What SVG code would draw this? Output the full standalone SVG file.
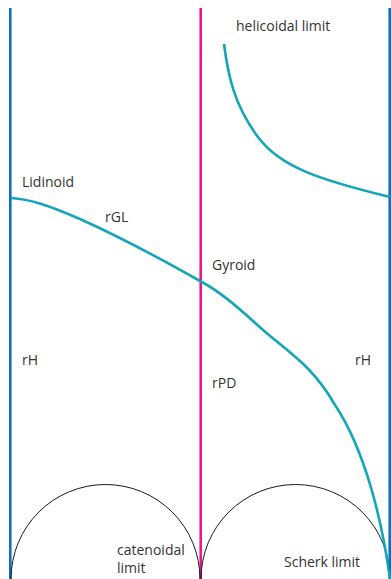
<svg xmlns="http://www.w3.org/2000/svg" width="391" height="579" viewBox="0 0 391 579">
<style>
.t{font-family:"Open Sans","Liberation Sans",sans-serif;font-size:14px;fill:#333}
.bl{stroke:#0a72c4;stroke-width:2.6;fill:none}
.mg{stroke:#e6198c;stroke-width:2.6;fill:none}
.cy{stroke:#12a6b6;stroke-width:2.6;fill:none}
.arc{stroke:#1a1a1a;stroke-width:1;fill:none}
</style>
<rect width="391" height="579" fill="#fff"/>
<g id="connectors">
<line class="bl" x1="10.3" y1="8" x2="10.3" y2="579"/>
<line class="mg" x1="200.7" y1="8" x2="200.7" y2="579"/>
<line class="bl" x1="389.7" y1="8" x2="389.7" y2="579"/>
<path class="arc" d="M11,579 A94.5,94.5 0 0 1 200,579"/>
<path class="arc" d="M201,579 A94.5,94.5 0 0 1 390,579"/>
<path class="cy" d="M224,44 C228,75 234,105 258,137 C280,167 320,180 390,197"/>
<path class="cy" d="M11,198 C30,199 50,206 80,219 C120,237 170,264 200,281 C230,297 250,320 275,340 C300,360 318,375 335,405 C365,450 382,520 390,579"/>
</g>
<g id="labels">
<text class="t" x="236" y="31">helicoidal limit</text>
<text class="t" x="22" y="187">Lidinoid</text>
<text class="t" x="105" y="222">rGL</text>
<text class="t" x="212" y="270">Gyroid</text>
<text class="t" x="22" y="365">rH</text>
<text class="t" x="355" y="365">rH</text>
<text class="t" x="212" y="388">rPD</text>
<text class="t" x="117" y="555">catenoidal</text>
<text class="t" x="117" y="573">limit</text>
<text class="t" x="284" y="567">Scherk limit</text>
</g>
</svg>
